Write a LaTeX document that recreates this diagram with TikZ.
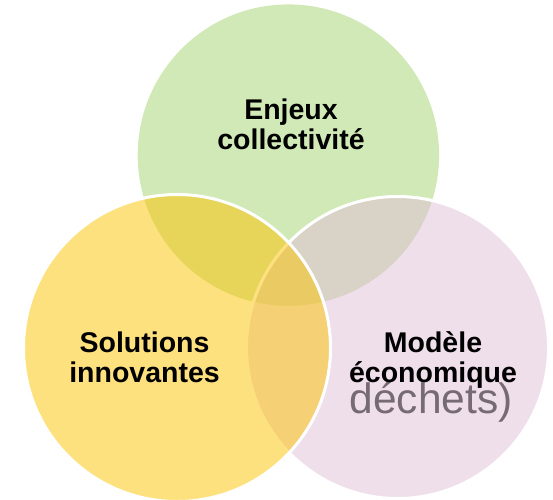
\documentclass[tikz,border=0pt]{standalone}
\usepackage{fontspec}
\setmainfont{Liberation Sans}
\definecolor{cgreen}{RGB}{209,233,182}
\definecolor{cyellow}{RGB}{253,195,0}
\definecolor{cpink}{RGB}{223,191,215}
\definecolor{cgraytxt}{RGB}{118,106,116}
\tikzset{
  venn/.style={draw=white, line width=3pt},
  lbl/.style={font=\bfseries\fontsize{28.5}{30}\selectfont, text=black, align=center, inner sep=0pt, anchor=base},
  faint/.style={font=\fontsize{42.5}{44}\selectfont, text=cgraytxt, inner sep=0pt, anchor=base}
}
\begin{document}
\begin{tikzpicture}[x=1pt,y=-1pt]
\useasboundingbox (0,0) rectangle (553,499);
\fill[cgreen] (288.4,155.1) circle (150.7);
\path[venn, fill=cpink, fill opacity=0.5] (397.5,347.5) circle (151);
\path[venn, fill=cyellow, fill opacity=0.5] (177,348) circle (153.5);
\node[lbl] (enjeux) at (291,149) {Enjeux\\collectivité};
\node[lbl] (solutions) at (144.5,382) {Solutions\\innovantes};
\node[faint] (dechets) at (431,413) {déchets)};
\node[lbl] (modele) at (433,382) {Modèle\\économique};
\end{tikzpicture}
\end{document}
